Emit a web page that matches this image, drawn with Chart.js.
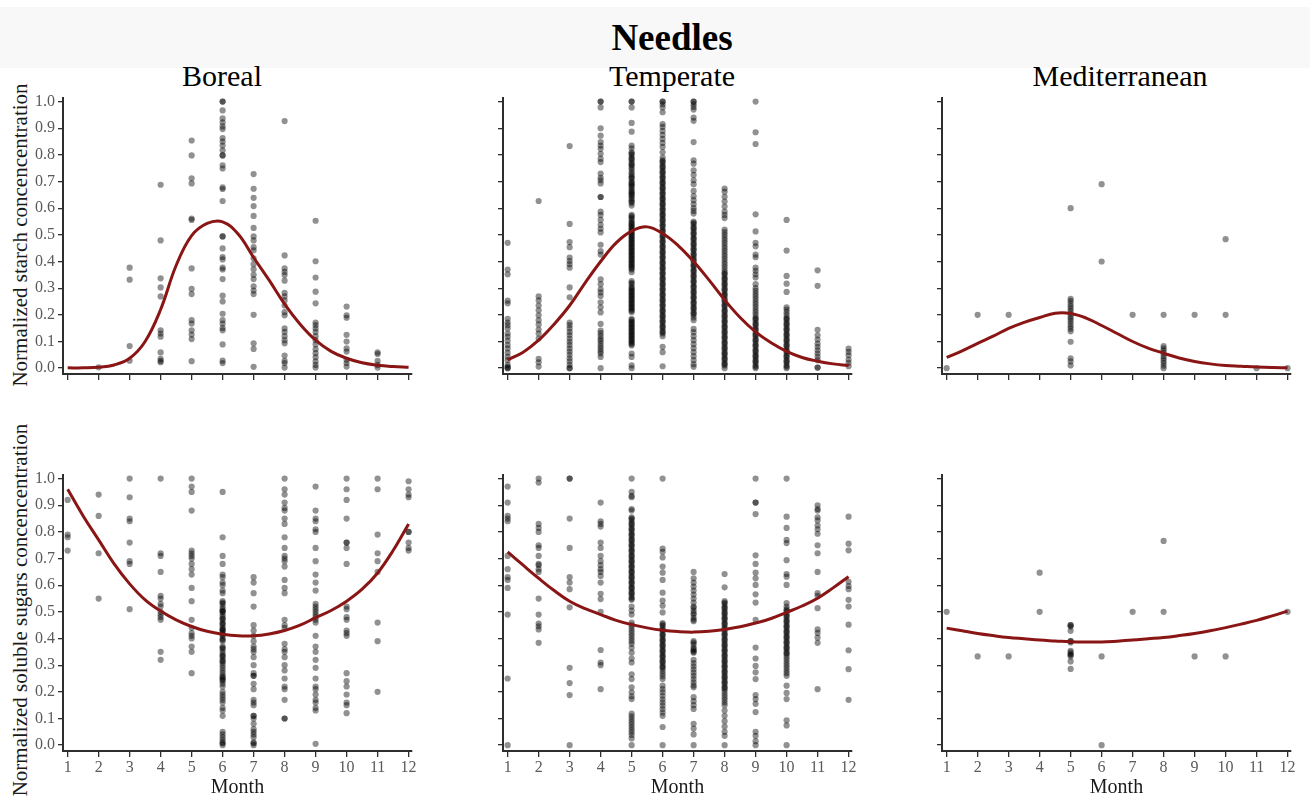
<!DOCTYPE html>
<html>
<head>
<meta charset="utf-8">
<script src="https://cdn.jsdelivr.net/npm/chart.js@4.4.1/dist/chart.umd.min.js"></script>
<style>
  body { margin: 0; width: 1312px; height: 804px; position: relative; overflow: hidden; background: #fff; font-family: "Liberation Serif", "Times New Roman", serif; }
  .band { position: absolute; left: 0; top: 7px; width: 1310px; height: 61px; background: #f8f8f8; }
  .main { position: absolute; left: 522px; width: 300px; top: 19px; text-align: center; font-size: 37px; line-height: 37px; font-weight: bold; color: #000; }
  .col { position: absolute; width: 300px; top: 61px; text-align: center; font-size: 30px; line-height: 30px; color: #000; }
  .ytitle { position: absolute; width: 420px; height: 24px; left: -190px; text-align: center; font-size: 21px; line-height: 24px; color: #1a1a1a; transform: rotate(-90deg); white-space: nowrap; }
  canvas { position: absolute; }
</style>
</head>
<body>
<div class="band"></div>
<div class="main">Needles</div>
<div class="col" style="left:72px">Boreal</div>
<div class="col" style="left:522px">Temperate</div>
<div class="col" style="left:970px">Mediterranean</div>
<div class="ytitle" style="top:223px">Normalized starch concencentration</div>
<div class="ytitle" style="top:598px">Normalized soluble sugars concencentration</div>

<canvas id="bStarch" width="424" height="309" style="left:0px;top:85px"></canvas>
<canvas id="tStarch" width="424" height="309" style="left:440px;top:85px"></canvas>
<canvas id="mStarch" width="424" height="309" style="left:879px;top:85px"></canvas>
<canvas id="bSugar" width="424" height="342" style="left:0px;top:462px"></canvas>
<canvas id="tSugar" width="424" height="342" style="left:440px;top:462px"></canvas>
<canvas id="mSugar" width="424" height="342" style="left:879px;top:462px"></canvas>

<script>
// months on the x axis and y tick values
const MONTHS = [1, 2, 3, 4, 5, 6, 7, 8, 9, 10, 11, 12];
const Y_TICKS = [0, 0.1, 0.2, 0.3, 0.4, 0.5, 0.6, 0.7, 0.8, 0.9, 1.0];
// fitted curves every half month
const CURVE_X = [1, 1.5, 2, 2.5, 3, 3.5, 4, 4.5, 5, 5.5, 6, 6.5, 7, 7.5, 8, 8.5, 9, 9.5, 10, 10.5, 11, 11.5, 12];

// ---- Starch, one list of observations per month ----
const borealStarch = [
  [],
  [0.003],
  [0.377, 0.332, 0.083, 0.028],
  [0.688, 0.479, 0.337, 0.303, 0.269, 0.142, 0.13, 0.118, 0.059, 0.035, 0.027, 0.022],
  [0.854, 0.798, 0.712, 0.693, 0.561, 0.556, 0.374, 0.297, 0.278, 0.18, 0.167, 0.142, 0.126, 0.109, 0.026],
  [1.0, 1.0, 0.967, 0.937, 0.922, 0.907, 0.897, 0.863, 0.85, 0.835, 0.817, 0.798, 0.798, 0.761, 0.749, 0.678, 0.672, 0.627, 0.494, 0.494, 0.449, 0.417, 0.408, 0.377, 0.37, 0.334, 0.272, 0.25, 0.204, 0.18, 0.167, 0.151, 0.142, 0.089, 0.028, 0.019],
  [0.728, 0.673, 0.639, 0.608, 0.571, 0.526, 0.494, 0.479, 0.454, 0.442, 0.412, 0.39, 0.371, 0.35, 0.334, 0.307, 0.291, 0.278, 0.2, 0.093, 0.072, 0.005],
  [0.927, 0.423, 0.374, 0.361, 0.349, 0.328, 0.282, 0.269, 0.254, 0.235, 0.21, 0.198, 0.149, 0.136, 0.12, 0.105, 0.093, 0.047, 0.027, 0.019, 0.002],
  [0.553, 0.401, 0.34, 0.287, 0.243, 0.171, 0.161, 0.149, 0.136, 0.12, 0.105, 0.089, 0.071, 0.056, 0.041, 0.025, 0.012, 0.002],
  [0.231, 0.198, 0.189, 0.125, 0.1, 0.074, 0.062, 0.031, 0.019, 0.006],
  [0.059, 0.053, 0.027, 0.012, 0.002],
  []
];
const temperateStarch = [
  [0.47, 0.37, 0.352, 0.253, 0.243, 0.185, 0.171, 0.161, 0.149, 0.13, 0.118, 0.103, 0.087, 0.074, 0.058, 0.043, 0.03, 0.012, 0.005, 0.0, 0.0],
  [0.627, 0.269, 0.254, 0.235, 0.217, 0.198, 0.18, 0.164, 0.145, 0.13, 0.111, 0.035, 0.022, 0.006],
  [0.833, 0.541, 0.473, 0.454, 0.415, 0.402, 0.39, 0.377, 0.303, 0.266, 0.171, 0.161, 0.149, 0.136, 0.124, 0.111, 0.099, 0.087, 0.074, 0.062, 0.05, 0.037, 0.025, 0.012, 0.0, 0.0],
  [1.0, 1.0, 0.978, 0.9, 0.872, 0.848, 0.835, 0.823, 0.804, 0.786, 0.773, 0.73, 0.714, 0.705, 0.693, 0.642, 0.642, 0.587, 0.575, 0.556, 0.538, 0.523, 0.509, 0.463, 0.439, 0.426, 0.333, 0.315, 0.296, 0.284, 0.271, 0.247, 0.228, 0.209, 0.166, 0.141, 0.131, 0.121, 0.11, 0.102, 0.092, 0.082, 0.073, 0.063, 0.055, 0.042, 0.0],
  [1.0, 1.0, 0.978, 0.92, 0.887, 0.835, 0.825, 0.81, 0.8, 0.79, 0.78, 0.77, 0.76, 0.745, 0.735, 0.72, 0.71, 0.7, 0.69, 0.68, 0.665, 0.655, 0.645, 0.63, 0.62, 0.61, 0.575, 0.565, 0.55, 0.54, 0.53, 0.52, 0.51, 0.5, 0.49, 0.48, 0.47, 0.46, 0.45, 0.44, 0.43, 0.42, 0.41, 0.4, 0.39, 0.38, 0.37, 0.36, 0.327, 0.315, 0.3, 0.29, 0.28, 0.27, 0.26, 0.25, 0.24, 0.23, 0.22, 0.21, 0.185, 0.175, 0.165, 0.155, 0.145, 0.135, 0.125, 0.115, 0.105, 0.095, 0.085, 0.055, 0.042, 0.01, 0.0,
   0.805, 0.785, 0.765, 0.752, 0.728, 0.715, 0.695, 0.685, 0.672, 0.66, 0.65, 0.638, 0.625, 0.57, 0.558, 0.545, 0.535, 0.525, 0.515, 0.505, 0.495, 0.485, 0.475, 0.465, 0.455, 0.445, 0.435, 0.425, 0.415, 0.405, 0.395, 0.385, 0.375, 0.32, 0.305, 0.295, 0.285, 0.275, 0.265, 0.255, 0.245, 0.235, 0.225, 0.215, 0.18, 0.17, 0.16, 0.15, 0.14, 0.13, 0.12, 0.11, 0.1, 0.09],
  [1.0, 1.0, 0.99, 0.978, 0.96, 0.916, 0.905, 0.89, 0.875, 0.86, 0.845, 0.83, 0.81, 0.79, 0.78, 0.77, 0.76, 0.75, 0.74, 0.73, 0.72, 0.71, 0.7, 0.69, 0.68, 0.67, 0.66, 0.65, 0.64, 0.63, 0.62, 0.61, 0.6, 0.59, 0.58, 0.57, 0.56, 0.55, 0.54, 0.53, 0.52, 0.51, 0.5, 0.49, 0.48, 0.47, 0.46, 0.45, 0.44, 0.43, 0.42, 0.41, 0.4, 0.39, 0.38, 0.37, 0.36, 0.35, 0.34, 0.33, 0.32, 0.31, 0.3, 0.29, 0.28, 0.27, 0.26, 0.25, 0.24, 0.23, 0.22, 0.21, 0.2, 0.19, 0.18, 0.17, 0.16, 0.15, 0.14, 0.13, 0.12, 0.08, 0.06, 0.007,
   0.775, 0.755, 0.735, 0.715, 0.695, 0.675, 0.655, 0.635, 0.615, 0.595, 0.575, 0.555, 0.535, 0.515, 0.495, 0.475, 0.455, 0.435, 0.415, 0.395, 0.375, 0.355, 0.335, 0.315, 0.295, 0.275, 0.255, 0.235, 0.215, 0.195, 0.175, 0.155, 0.135],
  [1.0, 1.0, 0.99, 0.98, 0.97, 0.94, 0.928, 0.848, 0.78, 0.767, 0.742, 0.725, 0.705, 0.69, 0.665, 0.645, 0.63, 0.615, 0.6, 0.59, 0.58, 0.55, 0.54, 0.53, 0.52, 0.51, 0.5, 0.49, 0.48, 0.47, 0.46, 0.45, 0.44, 0.43, 0.42, 0.41, 0.4, 0.39, 0.38, 0.37, 0.36, 0.35, 0.34, 0.33, 0.32, 0.31, 0.3, 0.29, 0.28, 0.27, 0.26, 0.25, 0.24, 0.23, 0.22, 0.21, 0.2, 0.19, 0.18, 0.147, 0.135, 0.12, 0.105, 0.09, 0.075, 0.06, 0.045, 0.03, 0.015, 0.005,
   0.545, 0.525, 0.505, 0.485, 0.465, 0.445, 0.425, 0.405, 0.385, 0.365, 0.345, 0.325, 0.305, 0.285, 0.265, 0.245, 0.225, 0.205],
  [0.674, 0.662, 0.643, 0.625, 0.606, 0.587, 0.575, 0.563, 0.52, 0.51, 0.5, 0.49, 0.48, 0.47, 0.46, 0.45, 0.44, 0.43, 0.42, 0.41, 0.4, 0.39, 0.38, 0.37, 0.36, 0.35, 0.34, 0.33, 0.32, 0.31, 0.3, 0.29, 0.28, 0.27, 0.26, 0.25, 0.24, 0.23, 0.22, 0.21, 0.2, 0.19, 0.18, 0.17, 0.16, 0.15, 0.14, 0.13, 0.12, 0.11, 0.1, 0.09, 0.08, 0.07, 0.06, 0.05, 0.04, 0.03, 0.02, 0.01, 0.0,
   0.355, 0.335, 0.315, 0.295, 0.275, 0.255, 0.235, 0.215, 0.195, 0.175, 0.155, 0.135, 0.115, 0.095, 0.075, 0.055, 0.035, 0.015],
  [1.0, 0.885, 0.841, 0.577, 0.513, 0.47, 0.457, 0.426, 0.416, 0.377, 0.365, 0.352, 0.34, 0.315, 0.3, 0.29, 0.28, 0.27, 0.26, 0.25, 0.24, 0.23, 0.22, 0.21, 0.2, 0.19, 0.18, 0.17, 0.16, 0.15, 0.14, 0.13, 0.12, 0.11, 0.1, 0.09, 0.08, 0.07, 0.06, 0.05, 0.04, 0.03, 0.02, 0.01, 0.0,
   0.185, 0.165, 0.145, 0.125, 0.105, 0.085, 0.065, 0.045, 0.025, 0.005],
  [0.556, 0.441, 0.346, 0.317, 0.286, 0.228, 0.22, 0.21, 0.2, 0.19, 0.18, 0.17, 0.16, 0.15, 0.14, 0.13, 0.12, 0.11, 0.1, 0.09, 0.08, 0.07, 0.06, 0.05, 0.04, 0.03, 0.02, 0.01, 0.0,
   0.185, 0.165, 0.145, 0.125, 0.105, 0.085, 0.065, 0.045, 0.025, 0.005],
  [0.367, 0.309, 0.144, 0.123, 0.107, 0.092, 0.08, 0.067, 0.055, 0.042, 0.03, 0.002, 0.002],
  [0.073, 0.061, 0.048, 0.032, 0.02, 0.007]
];
const medStarch = [
  [0.0],
  [0.2],
  [0.2],
  [],
  [0.6, 0.26, 0.252, 0.242, 0.232, 0.223, 0.214, 0.204, 0.194, 0.186, 0.177, 0.167, 0.157, 0.148, 0.138, 0.099, 0.037, 0.025, 0.01],
  [0.69, 0.4],
  [0.2],
  [0.2, 0.083, 0.074, 0.066, 0.056, 0.046, 0.037, 0.028, 0.019, 0.009, 0.0],
  [0.2],
  [0.484, 0.2],
  [0.0],
  [0.0]
];

// ---- Soluble sugars ----
const borealSugar = [
  [0.92, 0.79, 0.78, 0.73],
  [0.94, 0.86, 0.72, 0.55],
  [1.0, 0.93, 0.85, 0.84, 0.76, 0.69, 0.68, 0.51],
  [1.0, 0.72, 0.71, 0.65, 0.56, 0.55, 0.53, 0.52, 0.5, 0.49, 0.48, 0.47, 0.35, 0.32],
  [1.0, 0.97, 0.95, 0.88, 0.73, 0.72, 0.71, 0.7, 0.68, 0.66, 0.64, 0.59, 0.54, 0.47, 0.44, 0.42, 0.41, 0.4, 0.37, 0.35, 0.27],
  [0.95, 0.78, 0.71, 0.68, 0.64, 0.63, 0.61, 0.6, 0.58, 0.57, 0.54, 0.53, 0.52, 0.51, 0.5, 0.5, 0.49, 0.48, 0.47, 0.46, 0.45, 0.44, 0.43, 0.43, 0.42, 0.41, 0.4, 0.39, 0.37, 0.36, 0.35, 0.34, 0.33, 0.32, 0.31, 0.3, 0.29, 0.28, 0.27, 0.26, 0.25, 0.24, 0.23, 0.22, 0.2, 0.19, 0.18, 0.17, 0.16, 0.14, 0.13, 0.11, 0.05, 0.04, 0.03, 0.02, 0.01, 0.007, 0.0,
   0.535, 0.505, 0.475, 0.455, 0.435, 0.415, 0.395, 0.365, 0.335, 0.315, 0.255, 0.245],
  [0.63, 0.61, 0.57, 0.52, 0.45, 0.43, 0.41, 0.39, 0.37, 0.36, 0.35, 0.33, 0.3, 0.27, 0.26, 0.26, 0.23, 0.21, 0.17, 0.16, 0.15, 0.11, 0.11, 0.1, 0.08, 0.06, 0.05, 0.04, 0.03, 0.01, 0.007, 0.0],
  [1.0, 0.96, 0.94, 0.91, 0.89, 0.88, 0.85, 0.83, 0.78, 0.74, 0.71, 0.7, 0.69, 0.67, 0.62, 0.59, 0.57, 0.47, 0.45, 0.44, 0.38, 0.36, 0.35, 0.33, 0.3, 0.28, 0.25, 0.22, 0.21, 0.17, 0.1, 0.1],
  [0.97, 0.88, 0.85, 0.84, 0.81, 0.8, 0.74, 0.69, 0.64, 0.61, 0.58, 0.53, 0.52, 0.51, 0.5, 0.49, 0.48, 0.47, 0.46, 0.41, 0.37, 0.35, 0.32, 0.29, 0.25, 0.22, 0.21, 0.19, 0.17, 0.16, 0.14, 0.13, 0.005],
  [1.0, 0.96, 0.92, 0.85, 0.76, 0.76, 0.74, 0.68, 0.52, 0.51, 0.48, 0.47, 0.43, 0.42, 0.41, 0.27, 0.24, 0.22, 0.19, 0.16, 0.15, 0.12],
  [1.0, 0.96, 0.79, 0.72, 0.69, 0.65, 0.46, 0.39, 0.2],
  [0.99, 0.96, 0.94, 0.93, 0.8, 0.8, 0.76, 0.74, 0.73]
];
const temperateSugar = [
  [0.97, 0.91, 0.86, 0.85, 0.84, 0.71, 0.66, 0.63, 0.62, 0.59, 0.49, 0.25, 0.0],
  [1.0, 0.985, 0.83, 0.815, 0.8, 0.75, 0.74, 0.71, 0.68, 0.675, 0.66, 0.65, 0.55, 0.49, 0.456, 0.446, 0.434, 0.384],
  [1.0, 1.0, 0.85, 0.74, 0.63, 0.61, 0.585, 0.517, 0.29, 0.233, 0.188, 0.0],
  [0.91, 0.84, 0.83, 0.82, 0.76, 0.74, 0.71, 0.69, 0.675, 0.66, 0.65, 0.635, 0.61, 0.568, 0.548, 0.5, 0.357, 0.31, 0.3, 0.21],
  [1.0, 0.95, 0.935, 0.93, 0.886, 0.88, 0.855, 0.845, 0.835, 0.825, 0.815, 0.805, 0.795, 0.785, 0.775, 0.765, 0.755, 0.745, 0.735, 0.725, 0.715, 0.705, 0.695, 0.685, 0.675, 0.665, 0.655, 0.645, 0.635, 0.625, 0.615, 0.605, 0.595, 0.585, 0.575, 0.565, 0.555, 0.545, 0.52, 0.505, 0.49, 0.46, 0.45, 0.44, 0.43, 0.42, 0.41, 0.4, 0.39, 0.38, 0.365, 0.347, 0.325, 0.31, 0.266, 0.248, 0.217, 0.198, 0.183, 0.173, 0.118, 0.108, 0.098, 0.088, 0.078, 0.068, 0.058, 0.048, 0.038, 0.025, 0.0,
   0.85, 0.83, 0.81, 0.79, 0.77, 0.75, 0.73, 0.71, 0.69, 0.67, 0.65, 0.63, 0.61, 0.59, 0.57, 0.55],
  [1.0, 0.737, 0.725, 0.704, 0.67, 0.647, 0.62, 0.572, 0.542, 0.523, 0.498, 0.458, 0.448, 0.438, 0.428, 0.418, 0.408, 0.398, 0.388, 0.378, 0.368, 0.358, 0.348, 0.338, 0.328, 0.318, 0.308, 0.298, 0.288, 0.278, 0.268, 0.258, 0.248, 0.223, 0.21, 0.198, 0.185, 0.172, 0.16, 0.148, 0.135, 0.122, 0.11, 0.068, 0.0,
   0.453, 0.433, 0.413, 0.393, 0.373, 0.353, 0.333, 0.313, 0.293],
  [0.65, 0.626, 0.61, 0.595, 0.58, 0.565, 0.55, 0.535, 0.52, 0.505, 0.49, 0.478, 0.465, 0.39, 0.378, 0.366, 0.355, 0.347, 0.32, 0.308, 0.296, 0.284, 0.272, 0.26, 0.248, 0.236, 0.224, 0.217, 0.18, 0.165, 0.15, 0.136, 0.08, 0.062, 0.04, 0.0,
   0.515, 0.495, 0.47, 0.385, 0.36, 0.35],
  [0.642, 0.592, 0.54, 0.53, 0.52, 0.51, 0.5, 0.49, 0.48, 0.47, 0.46, 0.45, 0.44, 0.43, 0.42, 0.41, 0.4, 0.39, 0.38, 0.37, 0.36, 0.35, 0.34, 0.33, 0.32, 0.31, 0.3, 0.29, 0.28, 0.27, 0.26, 0.25, 0.24, 0.23, 0.22, 0.21, 0.2, 0.19, 0.18, 0.17, 0.16, 0.15, 0.13, 0.11, 0.09, 0.07, 0.05, 0.035, 0.0,
   0.535, 0.515, 0.495, 0.475, 0.455, 0.435, 0.415, 0.395, 0.375, 0.355, 0.335, 0.315, 0.295, 0.275, 0.255, 0.235, 0.215],
  [1.0, 0.91, 0.91, 0.867, 0.712, 0.68, 0.647, 0.626, 0.601, 0.566, 0.535, 0.47, 0.366, 0.325, 0.297, 0.273, 0.248, 0.188, 0.173, 0.155, 0.124, 0.05, 0.035, 0.015, 0.0],
  [1.0, 0.857, 0.815, 0.77, 0.758, 0.694, 0.642, 0.632, 0.601, 0.533, 0.52, 0.51, 0.5, 0.49, 0.48, 0.47, 0.46, 0.45, 0.44, 0.43, 0.42, 0.41, 0.4, 0.39, 0.38, 0.37, 0.36, 0.35, 0.34, 0.33, 0.32, 0.31, 0.3, 0.29, 0.28, 0.27, 0.26, 0.223, 0.196, 0.173, 0.093, 0.074, 0.0,
   0.505, 0.485, 0.465, 0.445, 0.425, 0.405, 0.385, 0.365, 0.345],
  [0.9, 0.886, 0.88, 0.855, 0.843, 0.824, 0.81, 0.793, 0.75, 0.72, 0.65, 0.57, 0.56, 0.514, 0.434, 0.421, 0.403, 0.384, 0.21],
  [0.857, 0.756, 0.731, 0.613, 0.597, 0.585, 0.545, 0.52, 0.452, 0.356, 0.285, 0.17]
];
const medSugar = [
  [0.5],
  [0.333],
  [0.333],
  [0.647, 0.5],
  [0.45, 0.45, 0.445, 0.429, 0.39, 0.39, 0.385, 0.354, 0.348, 0.34, 0.34, 0.333, 0.314, 0.286],
  [0.333, 0.0],
  [0.5],
  [0.766, 0.5],
  [0.333],
  [0.333],
  [],
  [0.5]
];

// ---- fitted curves ----
const borealStarchFit = [0.001, 0.001, 0.003, 0.012, 0.037, 0.1, 0.22, 0.385, 0.497, 0.543, 0.549, 0.503, 0.415, 0.33, 0.24, 0.165, 0.105, 0.063, 0.037, 0.02, 0.011, 0.006, 0.003];
const temperateStarchFit = [0.031, 0.06, 0.105, 0.165, 0.235, 0.32, 0.4, 0.47, 0.514, 0.53, 0.505, 0.46, 0.4, 0.33, 0.256, 0.19, 0.136, 0.095, 0.063, 0.04, 0.026, 0.016, 0.01];
const medStarchFit = [0.04, 0.065, 0.093, 0.12, 0.149, 0.172, 0.19, 0.206, 0.205, 0.188, 0.16, 0.13, 0.1, 0.075, 0.056, 0.038, 0.025, 0.016, 0.01, 0.007, 0.004, 0.002, 0.001];
const borealSugarFit = [0.96, 0.86, 0.77, 0.68, 0.605, 0.545, 0.503, 0.47, 0.445, 0.427, 0.416, 0.41, 0.41, 0.417, 0.43, 0.45, 0.478, 0.505, 0.54, 0.585, 0.646, 0.73, 0.83];
const temperateSugarFit = [0.725, 0.675, 0.626, 0.58, 0.54, 0.512, 0.49, 0.468, 0.452, 0.44, 0.431, 0.426, 0.424, 0.427, 0.434, 0.444, 0.458, 0.475, 0.498, 0.522, 0.551, 0.59, 0.632];
const medSugarFit = [0.439, 0.429, 0.419, 0.411, 0.404, 0.399, 0.394, 0.391, 0.388, 0.387, 0.387, 0.39, 0.394, 0.399, 0.404, 0.411, 0.419, 0.429, 0.441, 0.454, 0.468, 0.485, 0.503];

const FONT = "'Liberation Serif', 'Times New Roman', serif";
const AXIS = "#2e2e2e";
const TICK_TEXT = "#5a5a5a";

function makePanel(id, monthValues, fit, o) {
  const points = [];
  monthValues.forEach((vals, i) => {
    vals.forEach((v) => points.push({ x: MONTHS[i], y: v }));
  });
  const curve = CURVE_X.map((x, i) => ({ x: x, y: fit[i] }));

  new Chart(id, {
    type: "scatter",
    data: {
      datasets: [
        {
          data: curve,
          showLine: true,
          borderColor: "#8a1515",
          borderWidth: 3,
          pointRadius: 0,
          tension: 0.4,
          order: 0,
        },
        {
          data: points,
          pointRadius: 3.1,
          backgroundColor: "rgba(0,0,0,0.43)",
          borderWidth: 0,
          order: 1,
        },
      ],
    },
    options: {
      responsive: false,
      animation: false,
      events: [],
      layout: { padding: { top: 10, right: 12, left: 0, bottom: 0 }, autoPadding: false },
      plugins: { legend: { display: false }, tooltip: { enabled: false } },
      scales: {
        x: {
          type: "linear",
          min: 0.85,
          max: 12.11,
          afterBuildTicks: (s) => { s.ticks = MONTHS.map((v) => ({ value: v })); },
          afterFit: (s) => { s.height = o.xHeight; },
          ticks: {
            color: TICK_TEXT,
            font: { family: FONT, size: 16 },
            padding: 1,
            maxRotation: 0,
            autoSkip: false,
            callback: (v) => (o.xLabels ? String(v) : ""),
          },
          grid: { drawOnChartArea: false, drawTicks: true, tickLength: 6, color: AXIS, lineWidth: 1.3 },
          border: { display: true, color: AXIS, width: 2 },
          title: {
            display: o.xLabels,
            text: "Month",
            color: "#1a1a1a",
            font: { family: FONT, size: 20 },
            padding: { top: 0, bottom: 4 },
          },
        },
        y: {
          type: "linear",
          min: -0.022,
          max: 1.015,
          afterBuildTicks: (s) => { s.ticks = Y_TICKS.map((v) => ({ value: v })); },
          afterFit: (s) => { s.width = 63; },
          ticks: {
            color: TICK_TEXT,
            font: { family: FONT, size: 16 },
            padding: 3,
            autoSkip: false,
            callback: (v) => (o.yLabels ? Number(v).toFixed(1) : ""),
          },
          grid: { drawOnChartArea: false, drawTicks: true, tickLength: 5, color: AXIS, lineWidth: 1.3 },
          border: { display: true, color: AXIS, width: 2 },
        },
      },
    },
  });
}

makePanel("bStarch", borealStarch, borealStarchFit, { xHeight: 20, xLabels: false, yLabels: true });
makePanel("tStarch", temperateStarch, temperateStarchFit, { xHeight: 20, xLabels: false, yLabels: false });
makePanel("mStarch", medStarch, medStarchFit, { xHeight: 20, xLabels: false, yLabels: false });
makePanel("bSugar", borealSugar, borealSugarFit, { xHeight: 53, xLabels: true, yLabels: true });
makePanel("tSugar", temperateSugar, temperateSugarFit, { xHeight: 53, xLabels: true, yLabels: false });
makePanel("mSugar", medSugar, medSugarFit, { xHeight: 53, xLabels: true, yLabels: false });
</script>
</body>
</html>
